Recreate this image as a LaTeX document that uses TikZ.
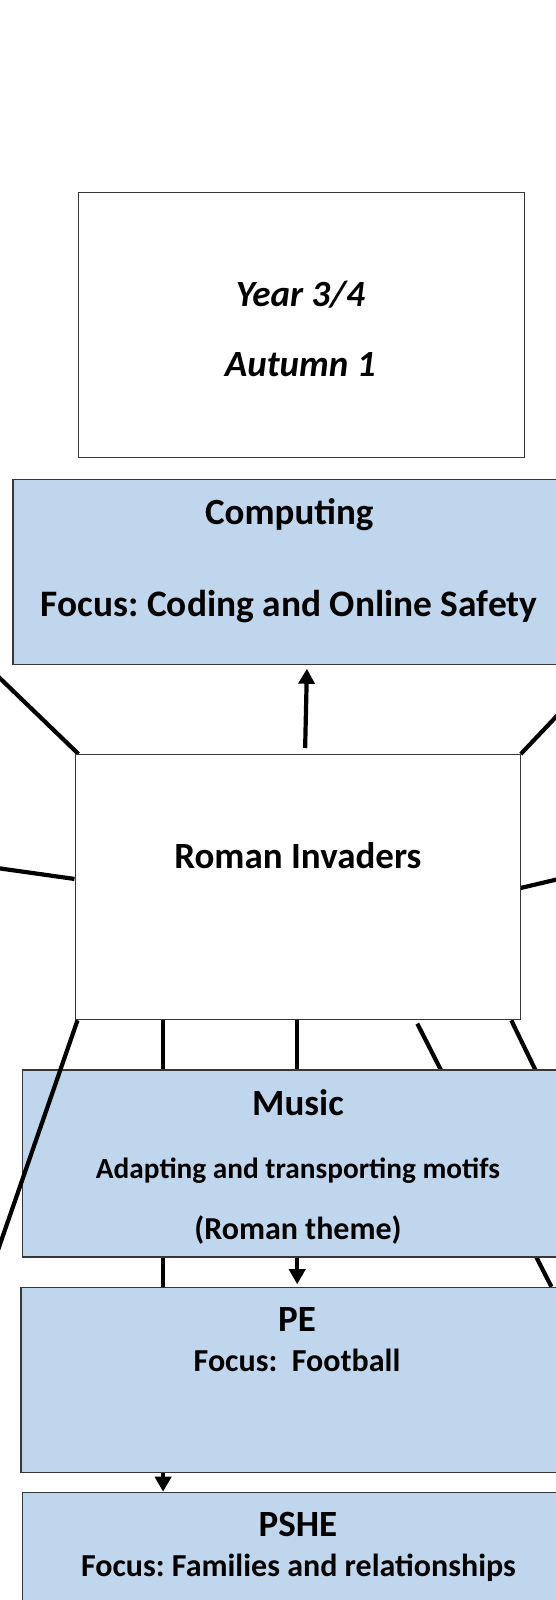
\documentclass[tikz,border=0pt]{standalone}
\usepackage{fontspec}
\setmainfont{Carlito}
\usetikzlibrary{arrows.meta}
\pgfdeclarelayer{bottom}
\pgfdeclarelayer{back}
\pgfsetlayers{bottom,back,main}
\definecolor{boxblue}{RGB}{191,214,237}
\definecolor{edgegray}{RGB}{55,55,55}
\frenchspacing
\begin{document}
\begin{tikzpicture}[x=1pt,y=-1pt,
  box/.style={draw=edgegray, line width=1.3pt, inner sep=0pt, anchor=north west},
  bluebox/.style={box, fill=boxblue},
  conn/.style={line width=4.2pt, black},
  arr/.style={conn, -{Triangle[length=15pt,width=16pt]}},
  big/.style={font=\fontsize{37}{44}\selectfont\bfseries, inner sep=0pt, anchor=base},
  bigit/.style={font=\fontsize{37}{44}\selectfont\bfseries\itshape, inner sep=0pt, anchor=base},
  mid/.style={font=\fontsize{32}{38}\selectfont\bfseries, inner sep=0pt, anchor=base},
  small/.style={font=\fontsize{29.3}{35}\selectfont\bfseries, inner sep=0pt, anchor=base}]
\useasboundingbox (0,0) rectangle (556,1600);
\clip (0,0) rectangle (556,1600);
\begin{pgfonlayer}{bottom}
\fill[white] (0,0) rectangle (556,1600);
\end{pgfonlayer}

% free ends
\coordinate (ulfree) at (-20,659);
\coordinate (urfree) at (580,691.5);
\coordinate (lmfree) at (-20,865.6);
\coordinate (rmfree) at (580,874);
\coordinate (blfree) at (-19.3,1300);
\coordinate (brfree) at (647,1300);

% boxes
\node[box, minimum width=445.8pt, minimum height=265pt] (year) at (78,191.5) {};
\node[box, fill=white, minimum width=445pt, minimum height=265pt] (roman) at (74.5,754) {};
\node[bluebox, minimum width=560pt, minimum height=185pt] (comp) at (12.4,479) {};
\node[bluebox, minimum width=560pt, minimum height=186.8pt] (music) at (22,1069.4) {};
\node[bluebox, minimum width=560pt, minimum height=185pt] (pe) at (20.2,1286.7) {};
\node[bluebox, minimum width=560pt, minimum height=140pt] (pshe) at (22,1491.7) {};

% connectors behind the boxes
\begin{pgfonlayer}{back}
\draw[conn] ([xshift=4pt]roman.north west) -- (ulfree);
\draw[conn] (roman.north east) -- (urfree);
\draw[conn] ([yshift=8.2pt]roman.west) -- (lmfree);
\draw[conn] ([yshift=-0.8pt]roman.east) -- (rmfree);
\draw[conn] ([xshift=436.8pt]roman.south west) -- (brfree);
\draw[arr] ([xshift=88.6pt]roman.south west) -- ([xshift=141.1pt]pshe.north west);
\draw[arr, shorten >=2.5pt] ([xshift=222.7pt]roman.south west) -- ([xshift=277pt]pe.north west);
\draw[conn, shorten <=3.7pt] ([xshift=341.1pt]roman.south west) -- ([xshift=531.2pt]pe.north west);
\end{pgfonlayer}

% texts
\node[bigit] (t1) at (300.5,306.7) {Year 3/4};
\node[bigit] (t2) at (300.3,376.7) {Autumn 1};
\node[big] (t3) at (289.3,524) {Computing};
\node[big, font=\fontsize{37.4}{44}\selectfont\bfseries] (t4) at (289,616) {Focus: Coding and Online Safety};
\node[big] (t5) at (297.9,868.3) {Roman Invaders};
\node[big] (t6) at (298,1115) {Music};
\node[small] (t7) at (297.9,1178.5) {Adapting and transporting motifs};
\node[small, font=\fontsize{32}{38}\selectfont\bfseries] (t8) at (298,1239.5) {(Roman theme)};
\node[big] (t9) at (297,1331.7) {PE};
\node[mid] (t10) at (297,1371.7) {Focus:\ \ Football};
\node[big] (t11) at (297.9,1536) {PSHE};
\node[mid] (t12) at (298.4,1576) {Focus: Families and relationships};

% connectors in front
\draw[arr, shorten <=6pt, shorten >=3.5pt] ([xshift=230.5pt]roman.north west) -- ([xshift=294.6pt]comp.south west);
\draw[conn] ([xshift=3pt]roman.south west) -- (blfree);
\end{tikzpicture}
\end{document}
